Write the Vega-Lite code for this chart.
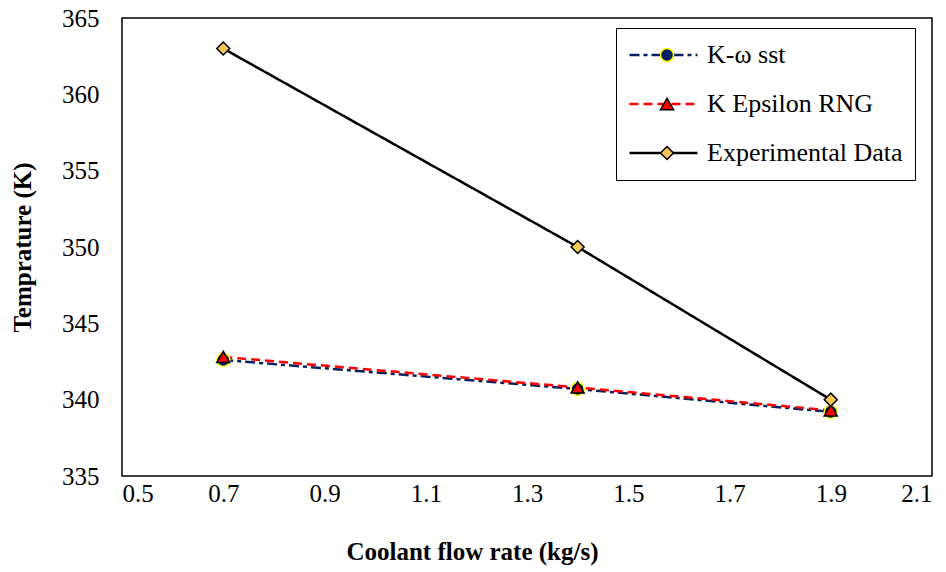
{
  "$schema": "https://vega.github.io/schema/vega-lite/v6.json",
  "width": 810,
  "height": 458,
  "autosize": {"type": "none"},
  "padding": {"left": 122, "top": 18, "right": 14, "bottom": 96},
  "background": "white",
  "config": {
    "view": {"stroke": "black", "strokeWidth": 1.5},
    "font": "Liberation Serif"
  },
  "data": {
    "values": [
      {"series": "K-ω sst", "flow": 0.7, "temp": 342.6},
      {"series": "K-ω sst", "flow": 1.4, "temp": 340.7},
      {"series": "K-ω sst", "flow": 1.9, "temp": 339.2},
      {"series": "K Epsilon RNG", "flow": 0.7, "temp": 342.8},
      {"series": "K Epsilon RNG", "flow": 1.4, "temp": 340.8},
      {"series": "K Epsilon RNG", "flow": 1.9, "temp": 339.3},
      {"series": "Experimental Data", "flow": 0.7, "temp": 363},
      {"series": "Experimental Data", "flow": 1.4, "temp": 350},
      {"series": "Experimental Data", "flow": 1.9, "temp": 340}
    ]
  },
  "encoding": {
    "x": {
      "field": "flow", "type": "quantitative",
      "scale": {"domain": [0.5, 2.1], "nice": false, "zero": false},
      "axis": {
        "values": [0.5, 0.7, 0.9, 1.1, 1.3, 1.5, 1.7, 1.9, 2.1],
        "format": ".1f",
        "title": "Coolant flow rate (kg/s)",
        "grid": false, "domain": false, "ticks": false,
        "labelFont": "Liberation Serif", "labelFontSize": 25, "labelColor": "black",
        "labelPadding": 5,
        "titleFont": "Liberation Serif", "titleFontSize": 25, "titleFontWeight": "bold",
        "titleColor": "black", "titlePadding": 33, "titleX": 350
      }
    },
    "y": {
      "field": "temp", "type": "quantitative",
      "scale": {"domain": [335, 365], "nice": false, "zero": false},
      "axis": {
        "values": [335, 340, 345, 350, 355, 360, 365],
        "title": "Temprature (K)",
        "grid": false, "domain": false, "ticks": false,
        "labelFont": "Liberation Serif", "labelFontSize": 25, "labelColor": "black",
        "labelPadding": 23,
        "titleFont": "Liberation Serif", "titleFontSize": 25, "titleFontWeight": "bold",
        "titleColor": "black", "titlePadding": 26
      }
    }
  },
  "layer": [
    {
      "mark": {"type": "line", "strokeWidth": 2.5},
      "encoding": {
        "stroke": {
          "field": "series", "type": "nominal",
          "scale": {"domain": ["K-ω sst", "K Epsilon RNG", "Experimental Data"], "range": ["#002060", "#FF0000", "#000000"]},
          "legend": {
            "orient": "none", "legendX": 494, "legendY": 10, "title": null,
            "strokeColor": "black", "padding": 12,
            "symbolType": "stroke", "symbolSize": 4624, "symbolStrokeWidth": 2.5,
            "labelFont": "Liberation Serif", "labelFontSize": 26, "labelColor": "black",
            "labelOffset": 8, "clipHeight": 30, "rowPadding": 19, "labelLimit": 400
          }
        },
        "strokeDash": {
          "field": "series", "type": "nominal",
          "scale": {"domain": ["K-ω sst", "K Epsilon RNG", "Experimental Data"], "range": [[10, 4, 4, 4], [9, 5], [1, 0]]},
          "legend": {
            "orient": "none", "legendX": 494, "legendY": 10, "title": null,
            "strokeColor": "black", "padding": 12,
            "symbolType": "stroke", "symbolSize": 4624, "symbolStrokeWidth": 2.5,
            "labelFont": "Liberation Serif", "labelFontSize": 26, "labelColor": "black",
            "labelOffset": 8, "clipHeight": 30, "rowPadding": 19, "labelLimit": 400
          }
        }
      }
    },
    {
      "mark": {"type": "point", "filled": true, "size": 170, "strokeWidth": 1.5, "opacity": 1},
      "encoding": {
        "shape": {
          "field": "series", "type": "nominal", "sort": "descending",
          "scale": {"range": ["circle", "triangle-up", "diamond"]},
          "legend": {
            "orient": "none", "legendX": 494, "legendY": 10, "title": null,
            "padding": 12, "symbolSize": 170, "symbolStrokeWidth": 1.5,
            "symbolOffset": 26, "labelOpacity": 0, "labelFontSize": 26,
            "labelFont": "Liberation Serif", "symbolOpacity": 1,
            "clipHeight": 30, "rowPadding": 19
          }
        },
        "fill": {
          "field": "series", "type": "nominal", "sort": "descending",
          "scale": {"range": ["#002060", "#FF0000", "#F5C55A"]},
          "legend": {
            "orient": "none", "legendX": 494, "legendY": 10, "title": null,
            "padding": 12, "symbolSize": 170, "symbolStrokeWidth": 1.5,
            "symbolOffset": 26, "labelOpacity": 0, "labelFontSize": 26,
            "labelFont": "Liberation Serif", "symbolOpacity": 1,
            "clipHeight": 30, "rowPadding": 19
          }
        },
        "stroke": {
          "field": "series", "type": "nominal", "sort": "descending",
          "scale": {"range": ["#FFFF00", "#000000", "#000000"]},
          "legend": {
            "orient": "none", "legendX": 494, "legendY": 10, "title": null,
            "padding": 12, "symbolSize": 170, "symbolStrokeWidth": 1.5,
            "symbolOffset": 26, "labelOpacity": 0, "labelFontSize": 26,
            "labelFont": "Liberation Serif", "symbolOpacity": 1,
            "clipHeight": 30, "rowPadding": 19
          }
        }
      }
    }
  ],
  "resolve": {"scale": {"stroke": "independent", "strokeDash": "independent", "shape": "independent", "fill": "independent"}}
}
